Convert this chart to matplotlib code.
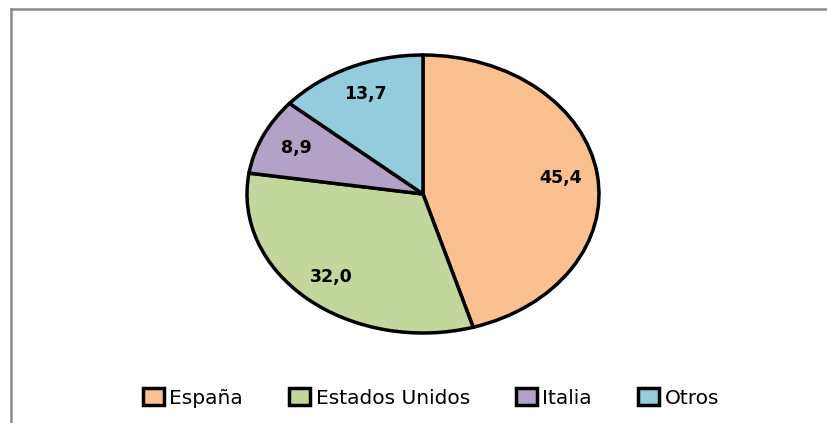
import matplotlib
matplotlib.use("Agg")
import matplotlib.pyplot as plt
from matplotlib.lines import Line2D
from matplotlib.patches import Patch

categories = ["España", "Estados Unidos", "Italia", "Otros"]
values = [45.4, 32.0, 8.9, 13.7]
colors = ["#FAC090", "#C3D69B", "#B3A2C7", "#93CDDD"]

W, H = 827, 423
fig = plt.figure(figsize=(W / 100, H / 100), dpi=100)
ax = fig.add_axes([0, 0, 1, 1])

cx, cy = 423, 194   # pixel center (from top)
rx, ry = 176, 139   # radii in pixels

wedges, texts, autotexts = ax.pie(
    values, colors=colors, startangle=90, counterclock=False,
    autopct=lambda p: f"{p:.1f}".replace(".", ","), pctdistance=0.79,
    wedgeprops=dict(edgecolor="black", linewidth=2.5),
    textprops=dict(fontsize=12.5, fontweight="bold", color="black", family="DejaVu Sans"),
)
ax.set_aspect("auto")
ax.set_xlim(-cx / rx, (W - cx) / rx)
ax.set_ylim(-(H - cy) / ry, cy / ry)
ax.axis("off")

handles = [Patch(facecolor=c, edgecolor="black", linewidth=2.5) for c in colors]
fig.legend(handles, categories, loc="center", bbox_to_anchor=(431 / W, 1 - 398 / H),
           ncol=4, frameon=False, handlelength=1.05, handleheight=0.85,
           handletextpad=0.25, columnspacing=2.3,
           prop=dict(family="DejaVu Sans", size=14.5))

# outer frame (left and top edges)
fig.add_artist(Line2D([11 / W, 11 / W], [0, 1 - 9 / H], color="#8c8c8c", linewidth=1.8,
                      transform=fig.transFigure))
fig.add_artist(Line2D([11 / W, 1], [1 - 9 / H, 1 - 9 / H], color="#8c8c8c", linewidth=1.8,
                      transform=fig.transFigure))

fig.savefig("out.png", dpi=100)
